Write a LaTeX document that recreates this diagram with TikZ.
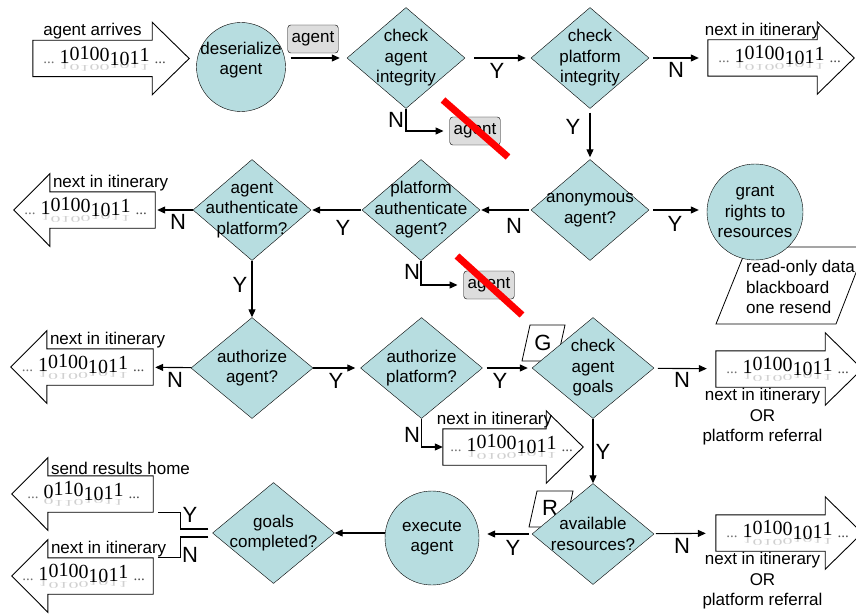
\documentclass[tikz,border=0pt]{standalone}
\usepackage{fontspec}
\setmainfont{Liberation Sans}
\newfontfamily\bitfont{Liberation Serif}
\usepackage{graphicx}
\usetikzlibrary{shapes.geometric,arrows.meta}

\definecolor{boxteal}{RGB}{183,221,224}
\definecolor{msggray}{RGB}{221,221,221}

% wavy bit strings with a faint reflection
\newcommand{\wv}[2]{\raisebox{#1pt}{#2}}
\newcommand{\bitsA}{\wv{0}{1}\wv{3}{0}\wv{4}{1}\wv{3}{0}\wv{2}{0}\wv{-2}{1}\wv{-2}{0}\wv{-1}{1}\wv{2}{1}}
\newcommand{\bitsB}{\wv{0}{0}\wv{3}{1}\wv{4}{1}\wv{2}{0}\wv{-2}{1}\wv{-2}{0}\wv{-1}{1}\wv{2}{1}}
\newcommand{\bitline}[1]{{\bitfont\fontsize{20}{22}\selectfont
  {\fontsize{15}{16}\selectfont\color{black!55}...}\ \rlap{\color{black!18}\scalebox{1}[-0.45]{#1}}#1\ {\fontsize{15}{16}\selectfont\color{black!70}...}}}

% outlines of the big data arrows, drawn round a body node
\newcommand{\rightbin}[1]{\draw[binline] (#1.north west) -- (#1.north east)
  -- ([yshift=18pt]#1.north east) -- ([xshift=37pt]#1.east)
  -- ([yshift=-18pt]#1.south east) -- (#1.south east) -- (#1.south west) -- cycle;}
\newcommand{\leftbin}[1]{\draw[binline] (#1.north east) -- (#1.north west)
  -- ([yshift=18pt]#1.north west) -- ([xshift=-36pt]#1.west)
  -- ([yshift=-18pt]#1.south west) -- (#1.south west) -- (#1.south east) -- cycle;}

\begin{document}
\begin{tikzpicture}[x=1pt,y=-1pt,
  font=\fontsize{17}{20.5}\selectfont,
  decision/.style={diamond,draw,fill=boxteal,minimum width=118,minimum height=101,inner sep=0},
  dtext/.style={align=center,inner sep=0},
  action/.style={circle,draw,fill=boxteal,inner sep=0},
  msg/.style={draw,rounded corners=3pt,fill=msggray,minimum height=28,inner xsep=4pt},
  binbody/.style={rectangle,minimum height=36,inner sep=0},
  binline/.style={draw,line width=0.9pt},
  bincap/.style={inner sep=1pt},
  yn/.style={font=\fontsize{22}{24}\selectfont,inner sep=0},
  flow/.style={draw,line width=1.1pt,-{Triangle[length=8pt,width=7pt]}},
  link/.style={draw,line width=1.1pt},
  cross/.style={red,line width=7pt},
  tag/.style={draw,line width=0.8pt,fill=white}]

  \useasboundingbox (0,0) rectangle (856,615);

  % Tags behind the nodes
  \draw[tag] (747,247) -- (866,247) -- (836,324) -- (716,324) -- cycle;
  \node[anchor=west,align=left,inner sep=0] (rights) at (746,287) {read-only data\\blackboard\\one resend};
  \draw[tag] (530,325) -- (565,325) -- (557,361) -- (522,361) -- cycle;
  \node[yn] (gtag) at (543,343) {G};
  \draw[tag] (537,491) -- (573,491) -- (565,527) -- (529,527) -- cycle;
  \node[yn] (rtag) at (550,508) {R};

  % Decisions
  \node[decision,label={[dtext]center:check\\agent\\integrity}] (cai) at (406,58) {};
  \node[decision,label={[dtext]center:check\\platform\\integrity}] (cpi) at (590,58) {};
  \node[decision,label={[dtext]center:anonymous\\agent?}] (anon) at (590,210) {};
  \node[decision,label={[dtext]center:platform\\authenticate\\agent?}] (pauth) at (421,210) {};
  \node[decision,label={[dtext]center:agent\\authenticate\\platform?}] (aauth) at (252,210) {};
  \node[decision,minimum width=122,label={[dtext]center:authorize\\agent?}] (authag) at (252,368) {};
  \node[decision,minimum width=122,label={[dtext]center:authorize\\platform?}] (authpl) at (421.5,368) {};
  \node[decision,minimum width=122,label={[dtext]center:check\\agent\\goals}] (goals) at (593,368) {};
  \node[decision,minimum width=122,label={[dtext]center:available\\resources?}] (avail) at (593,534) {};
  \node[decision,minimum width=122,label={[dtext]center:goals\\completed?}] (done) at (273.5,533) {};

  % Actions
  \node[action,minimum size=89,label={[dtext,yshift=7pt]center:deserialize\\agent}] (deser) at (241,67) {};
  \node[action,minimum size=96,label={[dtext]center:grant\\rights to\\resources}] (grant) at (755,212) {};
  \node[action,minimum size=94,label={[dtext]center:execute\\agent}] (exec) at (432,538) {};

  % Agent messages
  \node[msg] (ag1) at (313,39) {agent};
  \node[msg] (ag2) at (475,131) {agent};
  \node[msg] (ag3) at (489,285) {agent};
  \draw[cross] ([shift={(-32,-31)}]ag2.center) -- ([shift={(33,26)}]ag2.center);
  \draw[cross] ([shift={(-32,-29)}]ag3.center) -- ([shift={(33,30)}]ag3.center);

  % Data arrows
  \node[binbody,minimum width=119,label={[bincap]above:agent arrives},
    label={[xshift=12pt]center:\bitline{\bitsA}}] (in1) at (92.5,58.5) {};
  \rightbin{in1}
  \node[binbody,minimum width=109,label={[bincap]above:next in itinerary},
    label={[xshift=17pt]center:\bitline{\bitsA}}] (out1) at (762.5,58) {};
  \rightbin{out1}
  \node[binbody,minimum width=103,label={[bincap]above:next in itinerary},
    label={[xshift=17pt]center:\bitline{\bitsA}}] (out3) at (494.5,447) {};
  \rightbin{out3}
  \node[binbody,minimum width=109,label={[bincap,align=center,xshift=-8pt]below:next in itinerary\\OR\\platform referral},
    label={[xshift=17pt]center:\bitline{\bitsA}}] (out2) at (770.5,369) {};
  \rightbin{out2}
  \node[binbody,minimum width=109,label={[bincap,align=center,xshift=-8pt]below:next in itinerary\\OR\\platform referral},
    label={[xshift=17pt]center:\bitline{\bitsA}}] (out4) at (770.5,533) {};
  \rightbin{out4}
  \node[binbody,minimum width=105,label={[bincap,anchor=south west,xshift=2pt]north west:next in itinerary},
    label={[xshift=-17pt]center:\bitline{\bitsA}}] (back1) at (102.5,210) {};
  \leftbin{back1}
  \node[binbody,minimum width=106,label={[bincap,anchor=south west,xshift=2pt]north west:next in itinerary},
    label={[xshift=-17pt]center:\bitline{\bitsA}}] (back2) at (100,367) {};
  \leftbin{back2}
  \node[binbody,minimum width=105,label={[bincap,anchor=south west,xshift=2pt]north west:send results home},
    label={[xshift=-17pt]center:\bitline{\bitsB}}] (home) at (100.5,494) {};
  \leftbin{home}
  \node[binbody,minimum width=105,label={[bincap,anchor=south west,xshift=2pt]north west:next in itinerary},
    label={[xshift=-17pt]center:\bitline{\bitsA}}] (back3) at (100.5,576) {};
  \leftbin{back3}

  % Row 1
  \draw[flow,shorten <=5pt,shorten >=7pt] (deser.east |- cai) -- (cai);
  \draw[flow,shorten <=9pt,shorten >=5pt] (cai) -- (cpi);
  \node[yn] (y1) at (497,71) {Y};
  \draw[flow,shorten >=6pt] (cai.south) |- (ag2);
  \node[yn] (n1) at (396,120) {N};
  \draw[flow,shorten <=4pt,shorten >=9pt] (cpi) -- (out1);
  \node[yn] (n2) at (676,70) {N};
  \draw[flow,shorten <=4pt,shorten >=2pt] (cpi) -- (anon);
  \node[yn] (y2) at (573,127) {Y};

  % Row 2
  \draw[flow,shorten <=4pt,shorten >=8pt] (anon) -- (grant.west |- anon);
  \node[yn] (y3) at (675,224) {Y};
  \draw[flow,shorten <=2pt,shorten >=1pt] (anon) -- (pauth);
  \node[yn] (n3) at (514,226) {N};
  \draw[flow,shorten <=1pt,shorten >=1pt] (pauth) -- (aauth);
  \node[yn] (y4) at (343,228) {Y};
  \draw[flow,shorten >=6pt] (pauth.south) |- (ag3);
  \node[yn] (n4) at (412,272) {N};
  \draw[flow,shorten >=2pt] (aauth) -- (back1);
  \node[yn] (n5) at (178,222) {N};
  \draw[flow] (aauth) -- (authag);
  \node[yn] (y5) at (240,285) {Y};

  % Row 3
  \draw[flow,shorten >=2pt] (authag) -- (back2);
  \node[yn] (n6) at (175,380) {N};
  \draw[flow,shorten >=5pt] (authag) -- (authpl);
  \node[yn] (y6) at (336,381) {Y};
  \draw[flow,shorten <=4pt,shorten >=4pt] (authpl) -- (goals);
  \node[yn] (y7) at (500,381) {Y};
  \draw[flow] (authpl.south) |- (out3);
  \node[yn] (n7) at (412,435) {N};
  \draw[flow,shorten <=4pt,shorten >=9pt] (goals) -- (out2);
  \node[yn] (n8) at (682,380) {N};
  \draw[flow] (goals) -- (avail);
  \node[yn] (y8) at (603,452) {Y};

  % Row 4
  \draw[flow,shorten <=2pt,shorten >=10pt] (avail) -- (out4);
  \node[yn] (n9) at (682,546) {N};
  \draw[flow,shorten <=3pt,shorten >=8pt] (avail) -- (exec.east |- avail);
  \node[yn] (y9) at (513,548) {Y};
  \draw[flow] (exec.west |- done) -- (done);
  \draw[link] ([shift={(-4,-4)}]done.west) -- ++(-28,0) |- ([xshift=5pt]home.south east);
  \draw[link] ([shift={(-4,4)}]done.west) -- ++(-28,0) |- ([xshift=5pt]back3.north east);
  \node[yn] (y10) at (190,515) {Y};
  \node[yn] (n10) at (190,555) {N};
\end{tikzpicture}
\end{document}
